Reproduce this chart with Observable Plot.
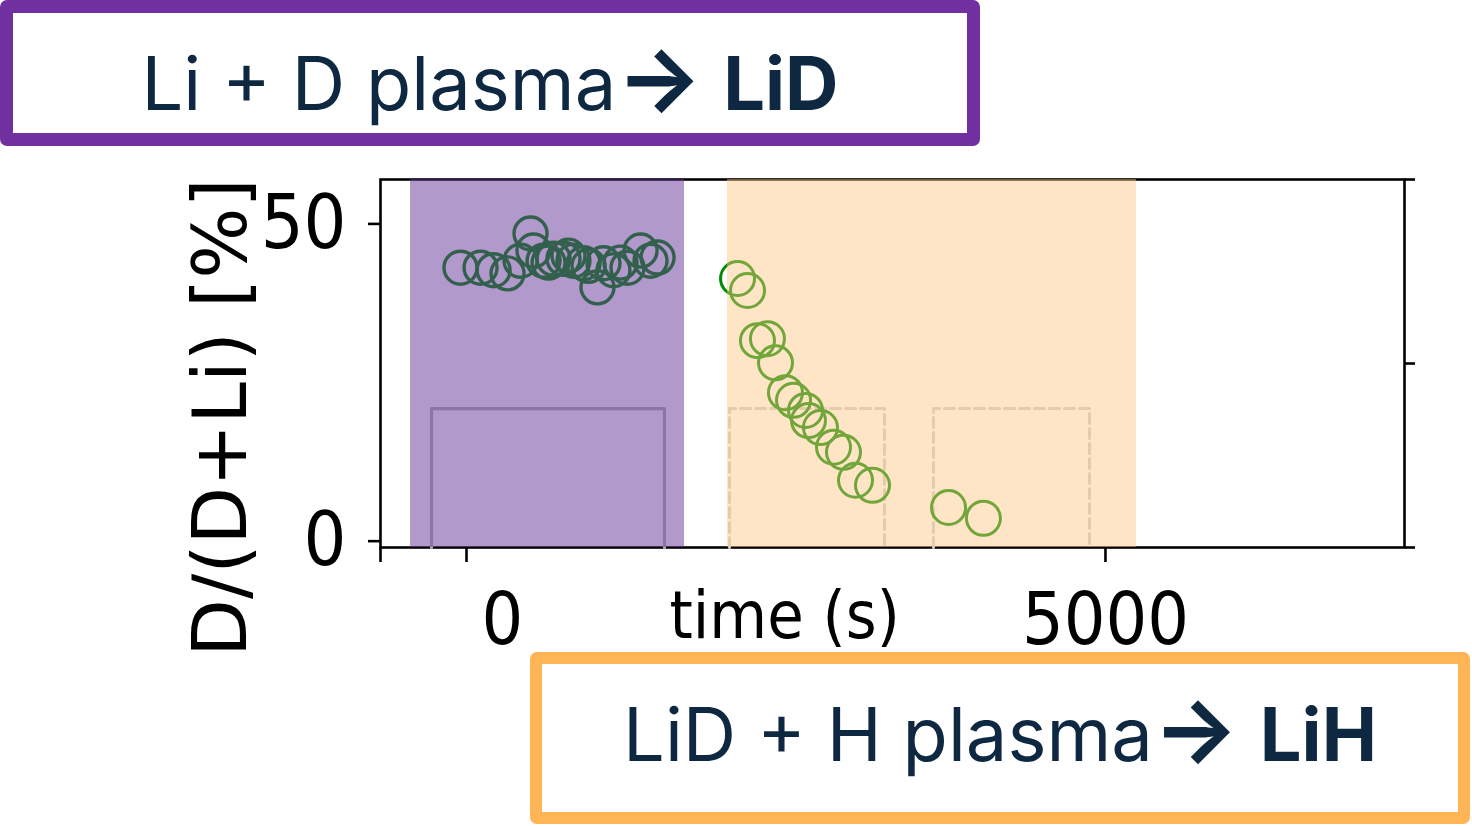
<!DOCTYPE html>
<html>
<head>
<meta charset="utf-8">
<script src="https://cdn.jsdelivr.net/npm/d3@7"></script>
<script src="https://cdn.jsdelivr.net/npm/@observablehq/plot@0.6"></script>
<style>
  html, body { margin: 0; padding: 0; background: #fff; }
  #wrap { position: relative; width: 1472px; height: 826px; overflow: hidden; }
  #chart { position: absolute; left: 0; top: 0; }
  .box { position: absolute; box-sizing: border-box; background: #fff; border-radius: 7px; }
  .box .txt { position: absolute; left: 0; right: 0; text-align: center; white-space: nowrap;
    font-family: Inter, "Noto Sans", sans-serif; font-size: 74px; line-height: 74px; color: #0e2841; }
  .box b { font-weight: 700; }
  .arrow { font-weight: 700; font-size: 1.22em; line-height: 0; }
  #boxTop { left: 0; top: 0; width: 980px; height: 146px; border: 13px solid #7030a0; }
  #boxBot { left: 530px; top: 652px; width: 940px; height: 172px; border: 12px solid #ffb556; }
</style>
</head>
<body>
<div id="wrap">
  <div id="chart"></div>
  <div class="box" id="boxTop"><div class="txt" style="top:33px">Li + D plasma<span class="arrow">→</span> <b>LiD</b></div></div>
  <div class="box" id="boxBot"><div class="txt" style="top:33px">LiD + H plasma<span class="arrow">→</span> <b>LiH</b></div></div>
</div>
<script>
// ---- data ----
// D plasma exposure (Li + D -> LiD): time (s), D/(D+Li) (%)
const dTime = [-47, 110, 212, 321, 423, 501, 524, 603, 642, 681, 759, 798, 837, 916, 955, 1025, 1072, 1150, 1205, 1260, 1362, 1440, 1495];
const dFrac = [43.1, 43.1, 42.7, 42.2, 44.2, 48.5, 45.8, 44.2, 43.9, 44.5, 44.5, 45.0, 44.2, 43.8, 43.4, 40.0, 43.8, 42.7, 43.9, 43.1, 45.8, 44.2, 44.7];
// H plasma exposure (LiD + H -> LiH)
const hTime = [2121, 2199, 2277, 2355, 2418, 2496, 2559, 2653, 2676, 2770, 2872, 2950, 3044, 3177, 3772, 4045];
const hFrac = [41.4, 39.5, 31.6, 31.9, 28.1, 23.4, 22.2, 20.6, 19.0, 17.9, 14.8, 14.0, 9.6, 8.8, 5.3, 3.6];
// plasma-on windows (s)
const dPulseStart = [-274], dPulseEnd = [1549];
const hPulseStart = [2058, 3654], hPulseEnd = [3271, 4875];
const pulseHigh = 20.9, pulseLow = -1;
// shaded phases (s)
const phaseStart = [-438, 2042], phaseEnd = [1706, 5243];
const phaseFill = ["#663399", "#fdc580"];
const phaseOpacity = [0.5, 0.45];
// axes
const xDomain = [-673, 7340];
const yDomain = [-1, 57];
const yTicks = [0, 50];
const xTicks = [0, 5000];
const rightTicks = [-1, 28, 57];
const xLabel = "time (s)", xLabelAt = 2490;
const yLabel = "D/(D+Li) [%]";

// ---- tables ----
const dPts = dTime.map((t, i) => ({t, f: dFrac[i]}));
const hPts = hTime.map((t, i) => ({t, f: hFrac[i]}));
const pulseLine = (s, e) => s.flatMap((a, i) => [
  {k: i, t: a, v: pulseLow}, {k: i, t: a, v: pulseHigh},
  {k: i, t: e[i], v: pulseHigh}, {k: i, t: e[i], v: pulseLow}]);
const phases = phaseStart.map((a, i) => ({a, b: phaseEnd[i], c: phaseFill[i], o: phaseOpacity[i]}));

const tickFont = "'DejaVu Sans Condensed', 'DejaVu Sans', sans-serif";
const ptColor = "#008b00";
const fmt = d => String(d);

const chart = Plot.plot({
  width: 1472, height: 826,
  marginLeft: 380, marginRight: 68, marginTop: 179, marginBottom: 279,
  x: {domain: xDomain, label: null},
  y: {domain: yDomain, label: null},
  style: {fontFamily: tickFont, color: "black", background: "transparent", overflow: "visible"},
  marks: [
    Plot.frame({stroke: "black", strokeWidth: 2.6}),
    Plot.line(pulseLine(dPulseStart, dPulseEnd), {x: "t", y: "v", z: "k", stroke: "#b5b5b5", strokeWidth: 3.2}),
    Plot.line(pulseLine(hPulseStart, hPulseEnd), {x: "t", y: "v", z: "k", stroke: "#d0d0d0", strokeWidth: 3, strokeDasharray: "10,5"}),
    Plot.dot(dPts, {x: "t", y: "f", r: 16.5, stroke: ptColor, strokeWidth: 3.4}),
    Plot.dot(hPts, {x: "t", y: "f", r: 17, stroke: ptColor, strokeWidth: 3}),
    Plot.rect(phases, {x1: "a", x2: "b", fill: "c", fillOpacity: "o"}),
    Plot.axisY(yTicks, {anchor: "left", tickSize: 12, tickPadding: 22, strokeWidth: 2.6, fontSize: 75, tickFormat: fmt, label: null}),
    Plot.axisY(rightTicks, {anchor: "right", tickSize: 10, strokeWidth: 2.6, tickFormat: () => "", label: null}),
    Plot.axisX([xDomain[0], ...xTicks], {anchor: "bottom", tickSize: 15, strokeWidth: 2.6, tickFormat: () => "", label: null}),
    Plot.axisX([xTicks[0]], {anchor: "bottom", tickSize: 0, tickPadding: 45, dx: 36, fontSize: 73, tickFormat: fmt, label: null}),
    Plot.axisX([xTicks[1]], {anchor: "bottom", tickSize: 0, tickPadding: 45, fontSize: 73, tickFormat: fmt, label: null}),
    Plot.text([xLabel], {x: () => xLabelAt, frameAnchor: "bottom", textAnchor: "middle", dy: 90, lineAnchor: "bottom", fontSize: 66}),
    Plot.text([yLabel], {frameAnchor: "left", textAnchor: "middle", rotate: -90, dx: -135, dy: 54, lineAnchor: "bottom", fontSize: 75, fontFamily: "'DejaVu Sans', sans-serif"})
  ]
});
document.getElementById("chart").appendChild(chart);
</script>
</body>
</html>
